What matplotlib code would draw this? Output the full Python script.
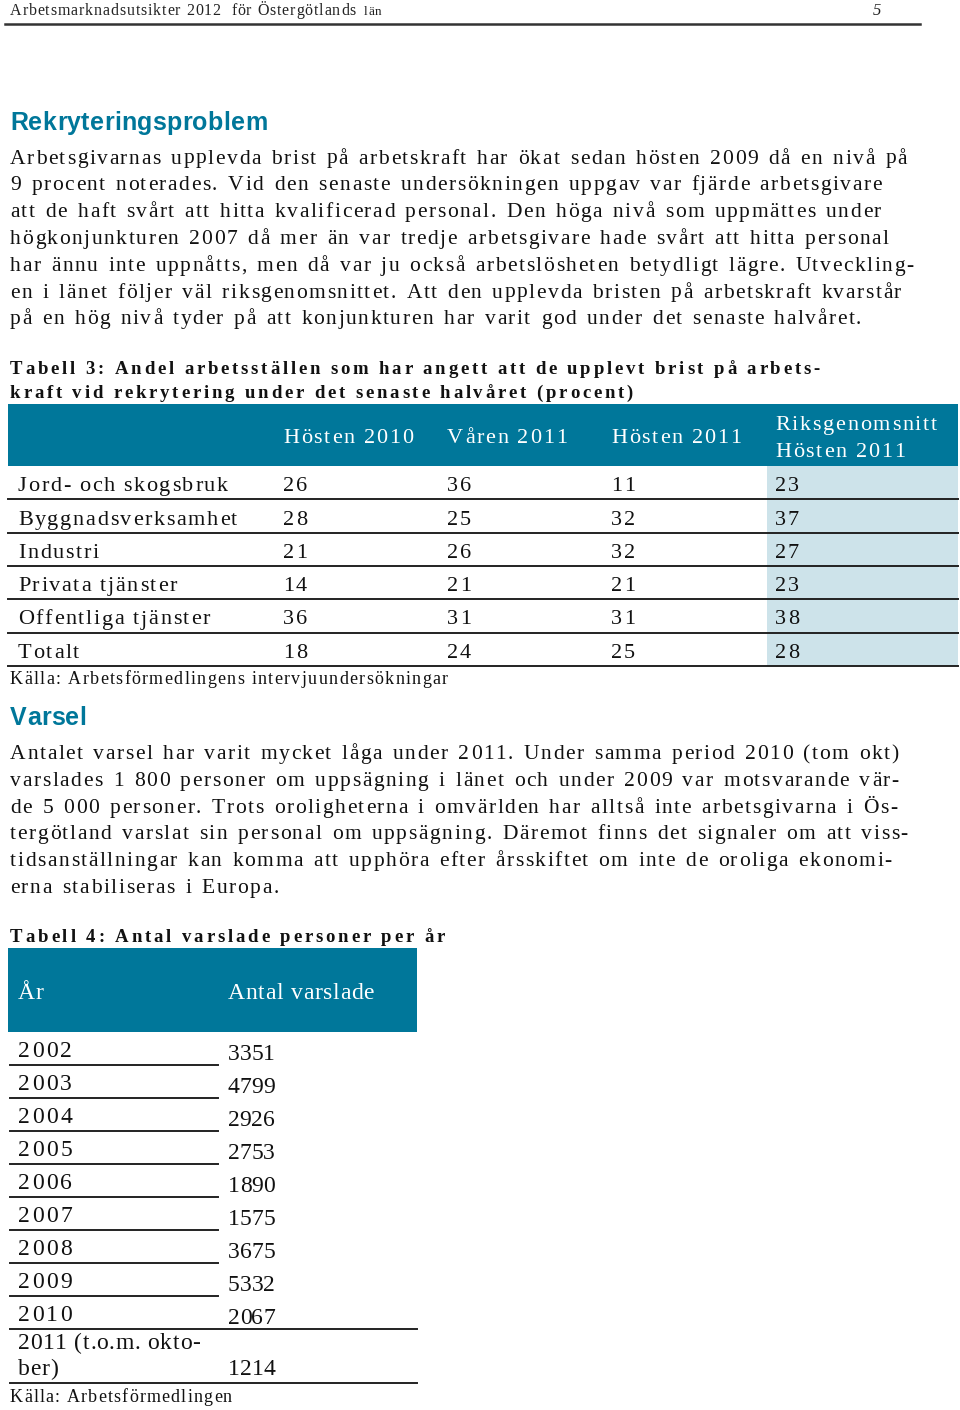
import matplotlib.pyplot as plt
from matplotlib.patches import Rectangle
from matplotlib.font_manager import FontProperties, findfont
from matplotlib.ft2font import FT2Font

# ---- data ----
sectors = ["Jord- och skogsbruk", "Byggnadsverksamhet", "Industri",
           "Privata tjänster", "Offentliga tjänster", "Totalt"]
periods = ["Hösten 2010", "Våren 2011", "Hösten 2011", "Riksgenomsnitt\nHösten 2011"]
hosten_2010 = [26, 28, 21, 14, 36, 18]
varen_2011 = [36, 25, 26, 21, 31, 24]
hosten_2011 = [11, 32, 32, 21, 31, 25]
riks_2011 = [23, 37, 27, 23, 38, 28]

years = ["2002", "2003", "2004", "2005", "2006", "2007", "2008", "2009", "2010",
         "2011 (t.o.m. okto-\nber)"]
varslade = [3351, 4799, 2926, 2753, 1890, 1575, 3675, 5332, 2067, 1214]

para1 = [
    "Arbetsgivarnas upplevda brist på arbetskraft har ökat sedan hösten 2009 då en nivå på",
    "9 procent noterades. Vid den senaste undersökningen uppgav var fjärde arbetsgivare",
    "att de haft svårt att hitta kvalificerad personal. Den höga nivå som uppmättes under",
    "högkonjunkturen 2007 då mer än var tredje arbetsgivare hade svårt att hitta personal",
    "har ännu inte uppnåtts, men då var ju också arbetslösheten betydligt lägre. Utveckling-",
    "en i länet följer väl riksgenomsnittet. Att den upplevda bristen på arbetskraft kvarstår",
    "på en hög nivå tyder på att konjunkturen har varit god under det senaste halvåret.",
]
para2 = [
    "Antalet varsel har varit mycket låga under 2011. Under samma period 2010 (tom okt)",
    "varslades 1 800 personer om uppsägning i länet och under 2009 var motsvarande vär-",
    "de 5 000 personer. Trots oroligheterna i omvärlden har alltså inte arbetsgivarna i Ös-",
    "tergötland varslat sin personal om uppsägning. Däremot finns det signaler om att viss-",
    "tidsanställningar kan komma att upphöra efter årsskiftet om inte de oroliga ekonomi-",
    "erna stabiliseras i Europa.",
]
title3 = ["Tabell 3: Andel arbetsställen som har angett att de upplevt brist på arbets-",
          "kraft vid rekrytering under det senaste halvåret (procent)"]
title4 = "Tabell 4: Antal varslade personer per år"
source3 = "Källa: Arbetsförmedlingens intervjuundersökningar"
source4 = "Källa: Arbetsförmedlingen"

TEAL = "#00779a"
LIGHT = "#cde3ea"
INK = "#111111"
SERIF = "Liberation Serif"
SANS = "Liberation Sans"
PX = 100 / 72  # pixels per point

_fonts = {}


def advances(s, size, family=SERIF, weight="normal"):
    key = (family, weight)
    if key not in _fonts:
        _fonts[key] = FT2Font(findfont(FontProperties(family=family, weight=weight)))
    f = _fonts[key]
    f.set_size(size, 72)
    return [f.load_char(ord(c)).linearHoriAdvance / 65536 * PX for c in s]


def track_for(s, target, size, family=SERIF, weight="normal", space=0.0):
    natural = sum(advances(s, size, family, weight)) + space * s.count(" ")
    return (target - natural) / (len(s) - 1)


def tracked(x, y, s, size, track, family=SERIF, weight="normal", color=INK, space=0.0):
    adv = advances(s, size, family, weight)
    xi = x
    for c, a in zip(s, adv):
        if c != " ":
            ax.text(xi, y, c, family=family, weight=weight, fontsize=size,
                    color=color, va="baseline", ha="left")
        else:
            xi += space
        xi += a + track


fig = plt.figure(figsize=(9.6, 14.1), dpi=100)
ax = fig.add_axes([0, 0, 1, 1])
ax.set_xlim(0, 960)
ax.set_ylim(1410, 0)
ax.axis("off")

# page header
hdr = "Arbetsmarknadsutsikter 2012  för Östergötlands"
tracked(10, 15, hdr, 11.5, track_for(hdr, 346, 11.5), color="#222")
tracked(364, 15, "län", 9.5, 0.6, color="#222")
ax.text(873, 15, "5", family=SERIF, fontsize=12, style="italic", color="#222", va="baseline")
ax.plot([5, 920], [24, 24], color="#333", lw=1.8)

# body text: light letter tracking, slightly wider word spaces
BODY = 15.5
S_BODY = 2.0
T_BODY = track_for(para1[0], 897, BODY, space=S_BODY)
t_head = track_for("Rekryteringsproblem", 257, 18, SANS, "bold")

# section 1
tracked(10, 130, "Rekryteringsproblem", 18, t_head, SANS, "bold", TEAL)
for i, line in enumerate(para1):
    tracked(10, 163.5 + i * 26.8, line, BODY, T_BODY, space=S_BODY)

TT = 13.5
t_t3 = track_for(title3[0], 810, TT, weight="bold")
for i, line in enumerate(title3):
    tracked(10, 374 + i * 24, line, TT, t_t3, weight="bold")

# table 3
top3, head3, row_h = 404, 466, 33.3
col_x = [283, 447, 611, 775]
CELL = 16
t_cell = track_for("Jord- och skogsbruk", 210, CELL)
t_hd = track_for("Riksgenomsnitt", 162, CELL)
ax.add_patch(Rectangle((8, top3), 950, head3 - top3, color=TEAL, lw=0))
for x, p in zip(col_x, periods):
    parts = p.split("\n")
    if len(parts) == 1:
        tracked(x, 443, p, CELL, t_hd, color="white")
    else:
        for k, part in enumerate(parts):
            tracked(x, 430 + k * 27, part, CELL, t_hd, color="white")
n = len(sectors)
ax.add_patch(Rectangle((767, head3), 191, n * row_h, color=LIGHT, lw=0))
cols = [hosten_2010, varen_2011, hosten_2011, riks_2011]
for i, s in enumerate(sectors):
    rule = head3 + (i + 1) * row_h
    tracked(18, rule - 8, s, CELL, t_cell)
    for x, vals in zip(col_x, cols):
        tracked(x, rule - 8, str(vals[i]), CELL, t_cell)
    ax.plot([8, 958], [rule, rule], color="#222", lw=1.4)
tracked(10, 684, source3, 13, track_for(source3, 438, 13))

# section 2
tracked(10, 725, "Varsel", 18, t_head, SANS, "bold", TEAL)
for i, line in enumerate(para2):
    tracked(10, 759 + i * 26.8, line, BODY, T_BODY, space=S_BODY)

tracked(10, 942, title4, TT, track_for(title4, 435, TT, weight="bold"), weight="bold")

# table 4
T4 = 17
top4, head4, r_h = 948, 1032, 33.0
t4 = track_for("Antal varslade", 146, T4)
t_year = track_for("2002", 54, T4)
t_val = track_for("3351", 47, T4)
ax.add_patch(Rectangle((8, top4), 409, head4 - top4, color=TEAL, lw=0))
tracked(18, 999, "År", T4, t4, color="white")
tracked(228, 999, "Antal varslade", T4, t4, color="white")
y = head4
for i, (yr, v) in enumerate(zip(years, varslade)):
    parts = yr.split("\n")
    if len(parts) == 1:
        y += r_h
        tracked(18, y - 8, yr, T4, t_year)
        tracked(228, y - 5, str(v), T4, t_val)
    else:
        y += 54
        for k, part in enumerate(parts):
            tracked(18, y - 34 + k * 26, part, T4, track_for(years[-1].split("\n")[0], 182, T4))
        tracked(228, y - 8, str(v), T4, t_val)
    x_end = 218 if i < len(years) - 2 else 417
    ax.plot([10, x_end], [y, y], color="#222", lw=1.4)
tracked(10, 1402, source4, 13, track_for(source4, 222, 13))

fig.savefig("out.png", dpi=100)
